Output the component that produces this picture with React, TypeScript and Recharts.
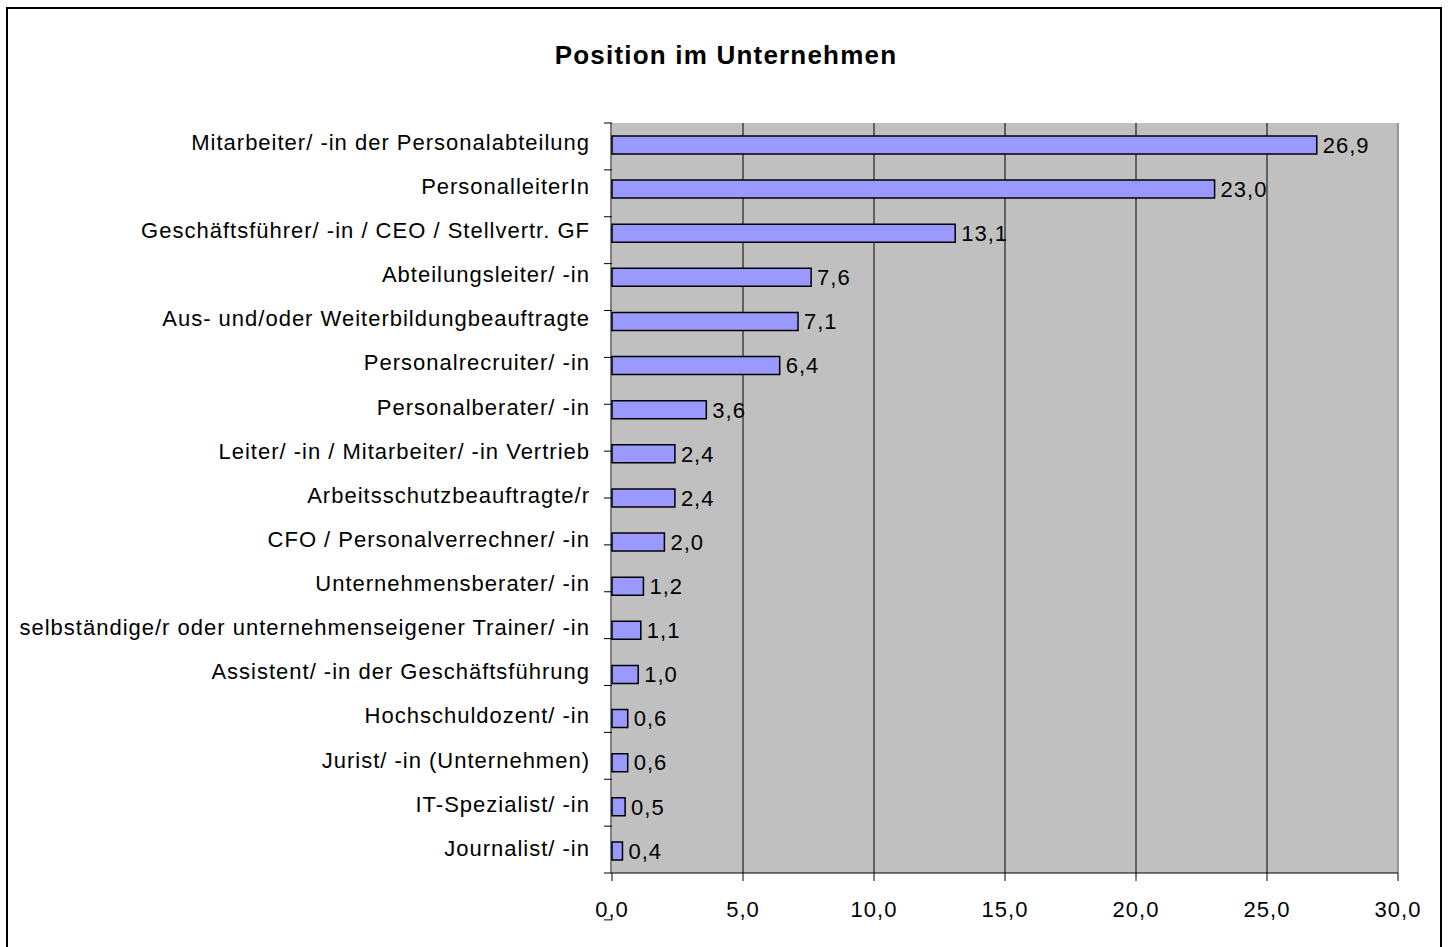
import React from 'react';
import { BarChart, Bar, XAxis, YAxis, CartesianGrid, LabelList, ReferenceLine } from 'recharts';

const categories = [
  'Mitarbeiter/ -in der Personalabteilung',
  'PersonalleiterIn',
  'Geschäftsführer/ -in / CEO / Stellvertr. GF',
  'Abteilungsleiter/ -in',
  'Aus- und/oder Weiterbildungbeauftragte',
  'Personalrecruiter/ -in',
  'Personalberater/ -in',
  'Leiter/ -in /  Mitarbeiter/ -in Vertrieb',
  'Arbeitsschutzbeauftragte/r',
  'CFO / Personalverrechner/ -in',
  'Unternehmensberater/ -in',
  'selbständige/r oder unternehmenseigener Trainer/ -in',
  'Assistent/ -in der Geschäftsführung',
  'Hochschuldozent/ -in',
  'Jurist/ -in (Unternehmen)',
  'IT-Spezialist/ -in',
  'Journalist/ -in',
];
const values = [26.9, 23.0, 13.1, 7.6, 7.1, 6.4, 3.6, 2.4, 2.4, 2.0, 1.2, 1.1, 1.0, 0.6, 0.6, 0.5, 0.4];
const xTicks = [0, 5, 10, 15, 20, 25, 30];
const bandTicks = [0, 1, 2, 3, 4, 5, 6, 7, 8, 9, 10, 11, 12, 13, 14, 15, 16, 17];

const data = categories.map((name, i) => ({ name, value: values[i] }));
const fmt = (v: number) => v.toFixed(1).replace('.', ',');
const FONT = '"Liberation Sans", Arial, sans-serif';

export default function App() {
  return (
    <div style={{ position: 'absolute', left: 0, top: 0, width: 1449, height: 947, overflow: 'hidden', background: '#fff', fontFamily: FONT }}>
      <div style={{ position: 'absolute', left: 6, top: 7, width: 1436, height: 980, border: '2px solid #000', boxSizing: 'border-box' }} />
      <div style={{ position: 'absolute', left: 0, width: 1452, top: 40, textAlign: 'center', fontWeight: 'bold', fontSize: 26, letterSpacing: 1.2, color: '#000' }}>
        Position im Unternehmen
      </div>
      <div style={{ position: 'absolute', left: 0, top: 0 }}>
        <BarChart
          width={1449}
          height={947}
          data={data}
          layout="vertical"
          margin={{ top: 123, right: 51, bottom: 0, left: 0 }}
        >
          <CartesianGrid
            fill="#C0C0C0"
            stroke="#000"
            strokeWidth={1}
            horizontal={false}
            verticalValues={[5, 10, 15, 20, 25]}
          />
          <XAxis
            type="number"
            domain={[0, 30]}
            ticks={xTicks}
            interval={0}
            tickFormatter={fmt}
            tickSize={8}
            tickMargin={20}
            height={74}
            stroke="#000"
            tick={{ fill: '#000', fontSize: 22, letterSpacing: 1, fontFamily: FONT }}
          />
          <YAxis
            yAxisId="cat"
            type="category"
            dataKey="name"
            width={611}
            interval={0}
            tickLine={false}
            tickSize={8}
            tickMargin={13}
            stroke="#000"
            tick={{ fill: '#000', fontSize: 22, letterSpacing: 1, fontFamily: FONT, dy: -3 }}
          />
          <YAxis
            yAxisId="band"
            type="number"
            domain={[0, 17]}
            ticks={bandTicks}
            interval={0}
            width={1}
            tickFormatter={() => ''}
            tick={{ fontSize: 1 }}
            tickSize={8}
            axisLine={false}
            stroke="#000"
          />
          <ReferenceLine yAxisId="band" y={17} stroke="#808080" strokeWidth={1.5} />
          <ReferenceLine yAxisId="band" x={30} stroke="#808080" strokeWidth={1.5} />
          <Bar yAxisId="cat" dataKey="value" fill="#9999FF" stroke="#000" strokeWidth={1.5} barSize={18} isAnimationActive={false}>
            <LabelList dataKey="value" position="right" offset={6} formatter={(v: any) => fmt(Number(v))} fill="#000" fontSize={22} letterSpacing={1} fontFamily={FONT} />
          </Bar>
        </BarChart>
      </div>
    </div>
  );
}
